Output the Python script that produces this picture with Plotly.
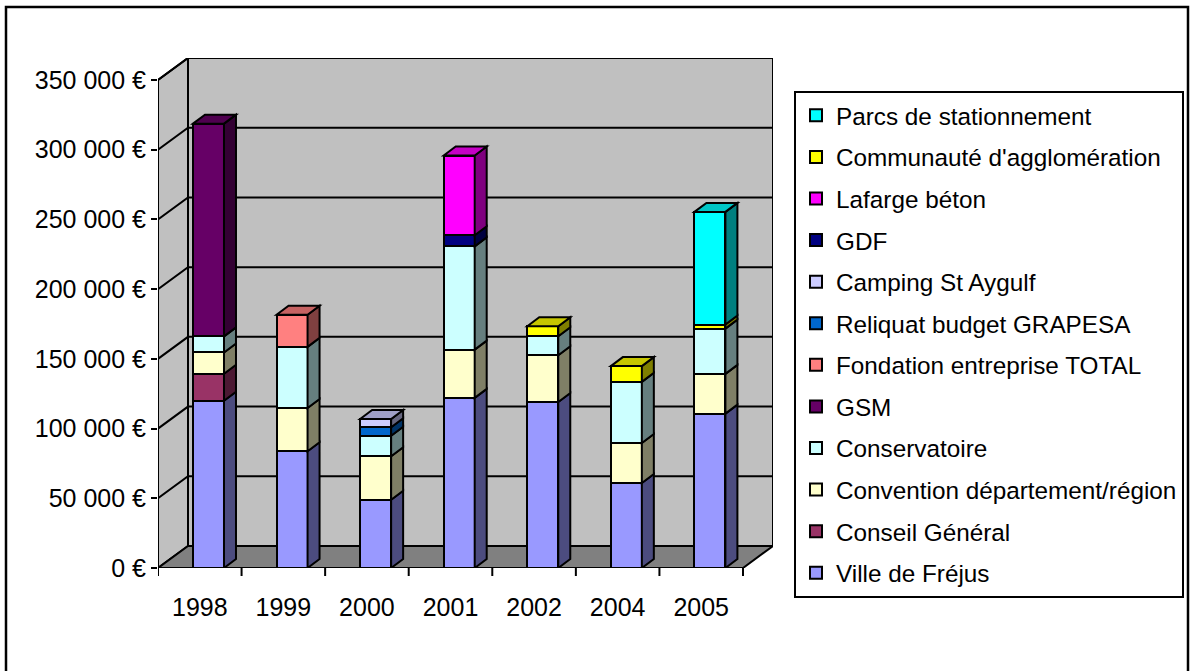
import plotly.graph_objects as go

years = ["1998", "1999", "2000", "2001", "2002", "2004", "2005"]

ville = [120000, 83700, 49000, 122000, 119100, 61000, 110700]
conseil = [19300, 0, 0, 0, 0, 0, 0]
convention = [15300, 31100, 31100, 34600, 33500, 28700, 28500]
conservatoire = [11500, 43800, 14800, 74100, 13600, 43800, 32500]
gsm = [152600, 0, 0, 0, 0, 0, 0]
fondation = [0, 23000, 0, 0, 0, 0, 0]
reliquat = [0, 0, 6000, 0, 0, 0, 0]
camping = [0, 0, 6000, 0, 0, 0, 0]
gdf = [0, 0, 0, 7900, 0, 0, 0]
lafarge = [0, 0, 0, 57200, 0, 0, 0]
communaute = [0, 0, 0, 0, 7200, 11300, 2900]
parcs = [0, 0, 0, 0, 0, 0, 80800]

series = [
    ("Ville de Fréjus", ville, "#9999FF"),
    ("Conseil Général", conseil, "#993366"),
    ("Convention département/région", convention, "#FFFFCC"),
    ("Conservatoire", conservatoire, "#CCFFFF"),
    ("GSM", gsm, "#660066"),
    ("Fondation entreprise TOTAL", fondation, "#FF8080"),
    ("Reliquat budget GRAPESA", reliquat, "#0066CC"),
    ("Camping St Aygulf", camping, "#CCCCFF"),
    ("GDF", gdf, "#000080"),
    ("Lafarge béton", lafarge, "#FF00FF"),
    ("Communauté d'agglomération", communaute, "#FFFF00"),
    ("Parcs de stationnement", parcs, "#00FFFF"),
]

tick_vals = [0, 50000, 100000, 150000, 200000, 250000, 300000, 350000]
tick_text = ["0 €", "50 000 €", "100 000 €", "150 000 €", "200 000 €",
             "250 000 €", "300 000 €", "350 000 €"]

FONT = "Liberation Sans, Arial, sans-serif"

# geometry (pixels)
W, H = 1190, 671
PL, PR, PT, PB = 158, 773, 58, 568          # plot area
FRONT_W = 585.0                              # front plane width
NCAT = len(years)
PX_X = FRONT_W / NCAT                        # px per category unit
YMAX_FRONT = 350000
PX_Y = (PB - 80) / YMAX_FRONT                # px per euro
DEPTH_X, DEPTH_Y = 30, 22                    # wall depth offset
BAR_W = 31 / PX_X
BAR_OFF = -6.8 / PX_X
SIDE_DX, SIDE_DY = 12 / PX_X, 9 / PX_Y

x_range = [-0.5, -0.5 + (PR - PL) / PX_X]
y_range = [0, (PB - PT) / PX_Y]

dxw = DEPTH_X / PX_X
dyw = DEPTH_Y / PX_Y


def shade(hexcol, f):
    h = hexcol.lstrip("#")
    r, g, b = int(h[0:2], 16), int(h[2:4], 16), int(h[4:6], 16)
    return "#%02x%02x%02x" % (int(r * f), int(g * f), int(b * f))


fig = go.Figure()
for k, (name, vals, col) in enumerate(series):
    fig.add_trace(go.Bar(
        x=list(range(NCAT)), y=vals, name=name, legendgroup=name,
        legendrank=1000 - k,
        width=BAR_W, offset=BAR_OFF,
        marker=dict(color=col, line=dict(color="black", width=2)),
    ))

shapes = []
x0f, x1f = -0.5, -0.5 + NCAT
# left side wall
shapes.append(dict(type="path", xref="x", yref="y", layer="below",
                   path=f"M{x0f},0 L{x0f + dxw},{dyw} L{x0f + dxw},{YMAX_FRONT + dyw} L{x0f},{YMAX_FRONT} Z",
                   fillcolor="#c0c0c0", line=dict(color="black", width=2)))
# back wall
shapes.append(dict(type="rect", xref="x", yref="y", layer="below",
                   x0=x0f + dxw, x1=x1f + dxw, y0=dyw, y1=YMAX_FRONT + dyw,
                   fillcolor="#c0c0c0", line=dict(color="black", width=2)))
# floor
shapes.append(dict(type="path", xref="x", yref="y", layer="below",
                   path=f"M{x0f},0 L{x1f},0 L{x1f + dxw},{dyw} L{x0f + dxw},{dyw} Z",
                   fillcolor="#808080", line=dict(color="black", width=2)))
# gridlines
for v in tick_vals[1:]:
    shapes.append(dict(type="path", xref="x", yref="y", layer="below",
                       path=f"M{x0f},{v} L{x0f + dxw},{v + dyw} L{x1f + dxw},{v + dyw}",
                       line=dict(color="black", width=2)))
# front axes
shapes.append(dict(type="line", xref="x", yref="y", layer="above",
                   x0=x0f, x1=x0f, y0=0, y1=YMAX_FRONT, line=dict(color="black", width=2)))
shapes.append(dict(type="line", xref="x", yref="y", layer="above",
                   x0=x0f, x1=x1f, y0=0, y1=0, line=dict(color="black", width=2)))

# 3D faces of bars
for i in range(NCAT):
    base = 0.0
    xl = i + BAR_OFF
    xr = xl + BAR_W
    top_col = None
    for name, vals, col in series:
        v = vals[i]
        if v <= 0:
            continue
        y0, y1 = base, base + v
        shapes.append(dict(type="path", xref="x", yref="y", layer="above",
                           path=f"M{xr},{y0} L{xr + SIDE_DX},{y0 + SIDE_DY} L{xr + SIDE_DX},{y1 + SIDE_DY} L{xr},{y1} Z",
                           fillcolor=shade(col, 0.5), line=dict(color="black", width=2)))
        base = y1
        top_col = col
    if top_col:
        shapes.append(dict(type="path", xref="x", yref="y", layer="above",
                           path=f"M{xl},{base} L{xl + SIDE_DX},{base + SIDE_DY} L{xr + SIDE_DX},{base + SIDE_DY} L{xr},{base} Z",
                           fillcolor=shade(top_col, 0.78), line=dict(color="black", width=2)))

# outer border
pw, ph = PR - PL, PB - PT
shapes.append(dict(type="rect", xref="paper", yref="paper", layer="above",
                   x0=(6 - PL) / pw, x1=(1188 - PL) / pw,
                   y0=(PB - 690) / ph, y1=(PB - 7) / ph,
                   line=dict(color="black", width=2.5), fillcolor="rgba(0,0,0,0)"))

fig.update_layout(
    width=W, height=H, autosize=False,
    margin=dict(l=PL, r=W - PR, t=PT, b=H - PB, pad=0, autoexpand=False),
    barmode="stack",
    paper_bgcolor="white", plot_bgcolor="white",
    font=dict(family=FONT, size=25, color="black"),
    showlegend=True,
    legend=dict(x=(794 - PL) / pw, y=(PB - 91) / ph, xanchor="left", yanchor="top",
                traceorder="grouped", tracegroupgap=7,
                bordercolor="black", borderwidth=2, bgcolor="white",
                font=dict(family=FONT, size=24.3, color="black")),
    xaxis=dict(range=x_range, tickmode="array", tickvals=list(range(NCAT)), ticktext=years,
               showgrid=False, zeroline=False, showline=False,
               ticks="", ticklabelstandoff=22, fixedrange=True),
    yaxis=dict(range=y_range, tickmode="array", tickvals=tick_vals, ticktext=tick_text,
               showgrid=False, zeroline=False, showline=False,
               ticks="outside", ticklen=6, tickwidth=2, tickcolor="black", fixedrange=True),
    shapes=shapes,
)

# category boundary tick marks on the front axis
for k in range(NCAT + 1):
    fig.add_shape(type="line", xref="x", yref="paper", layer="above",
                  x0=-0.5 + k, x1=-0.5 + k, y0=0, y1=-8 / ph,
                  line=dict(color="black", width=2))

fig.write_html("out.html",
               config={"displayModeBar": False, "responsive": False},
               post_script="document.body.style.margin='0';document.body.style.overflow='hidden';")
